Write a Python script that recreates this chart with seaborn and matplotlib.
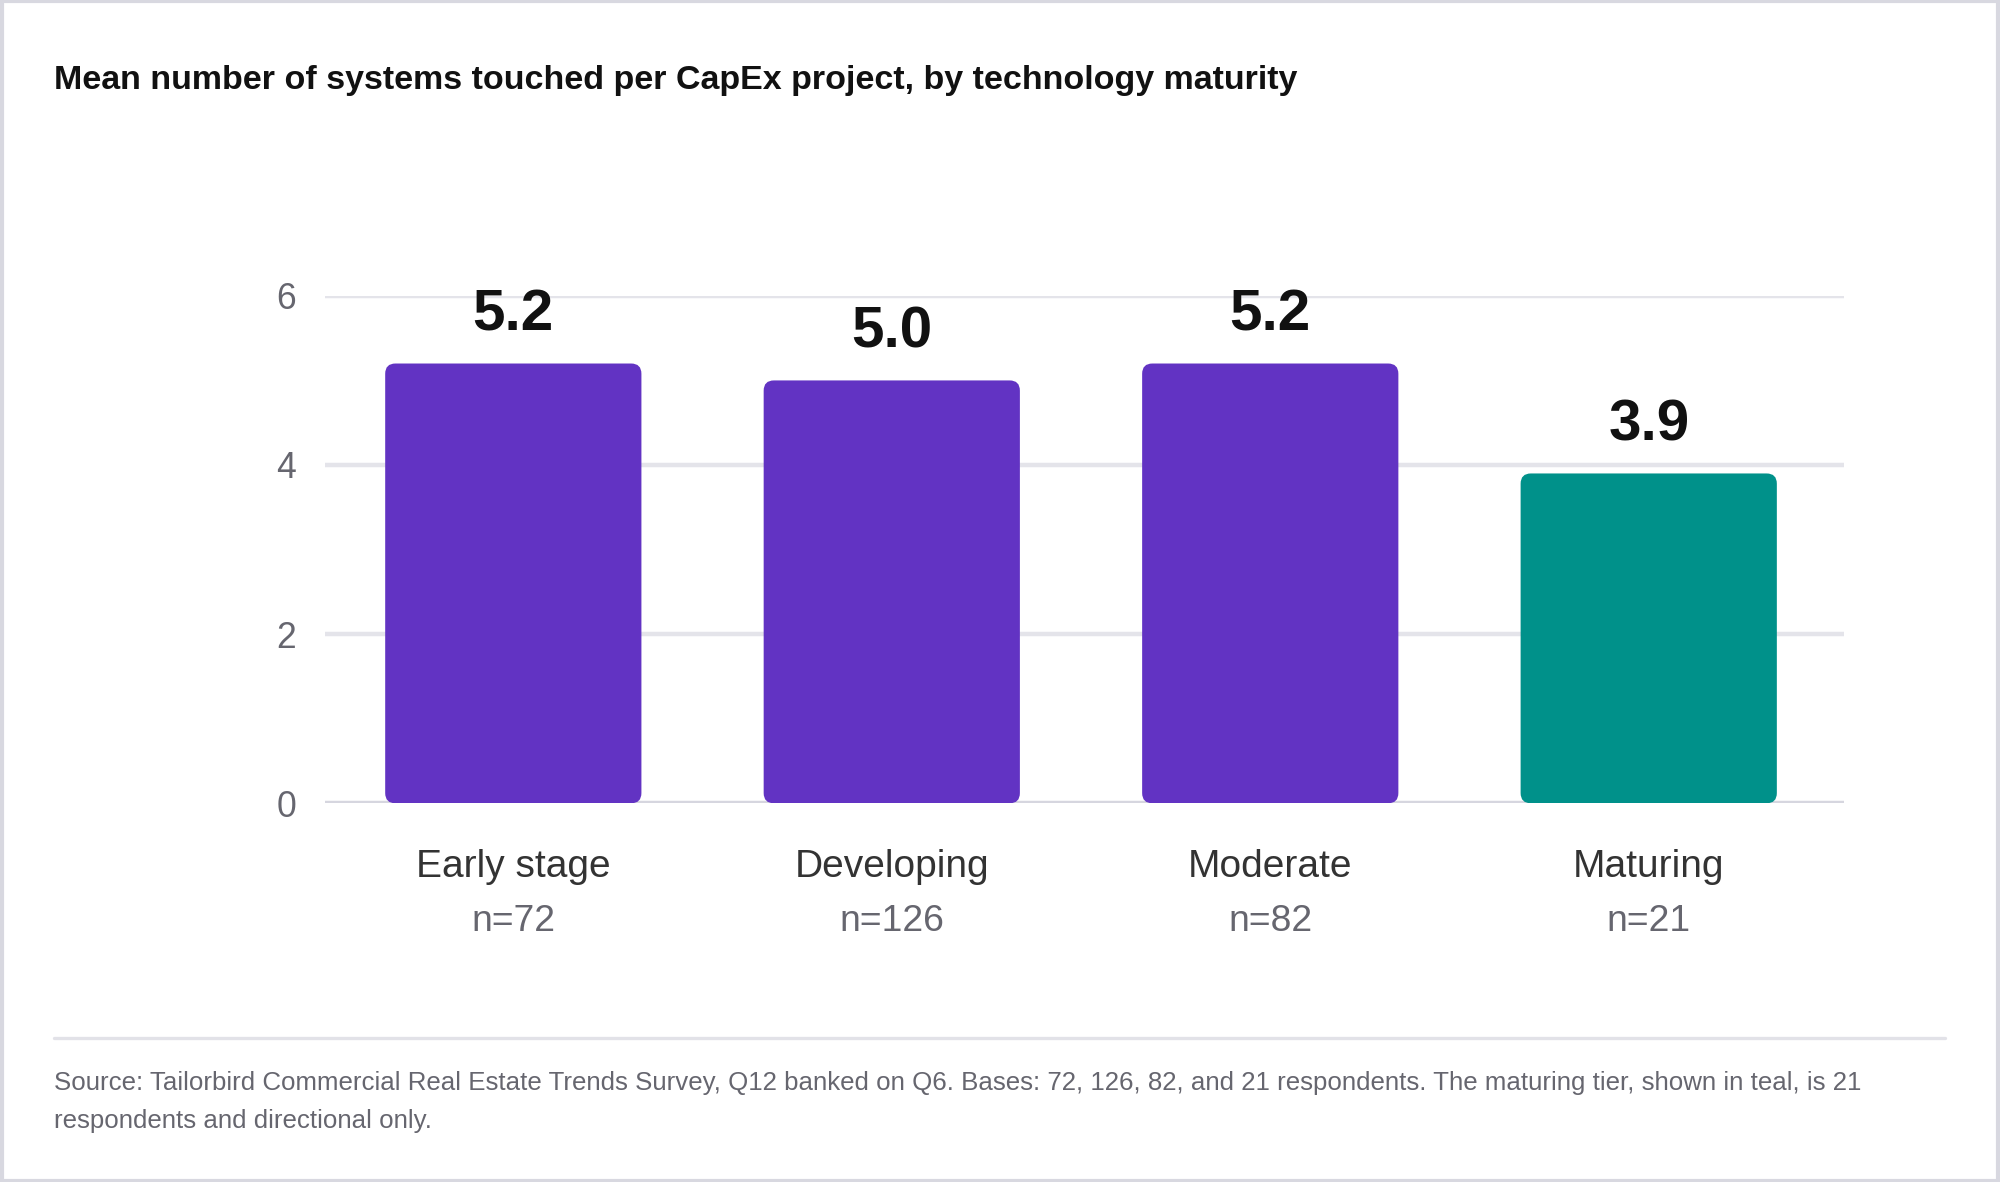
import pandas as pd
import matplotlib.pyplot as plt
import seaborn as sns
from matplotlib.patches import FancyBboxPatch, Rectangle
from matplotlib.lines import Line2D
from matplotlib.transforms import blended_transform_factory

# data
categories = ["Early stage", "Developing", "Moderate", "Maturing"]
means = [5.2, 5.0, 5.2, 3.9]
bases = [72, 126, 82, 21]
bar_colors = ["#6233C3", "#6233C3", "#6233C3", "#00918A"]
y_ticks = [0, 2, 4, 6]

title = "Mean number of systems touched per CapEx project, by technology maturity"
source_1 = ("Source: Tailorbird Commercial Real Estate Trends Survey, Q12 banked on Q6. "
            "Bases: 72, 126, 82, and 21 respondents. The maturing tier, shown in teal, is 21")
source_2 = "respondents and directional only."

df = pd.DataFrame({"tier": categories, "mean": means, "n": bases})

sns.set_theme(style="white")
plt.rcParams["font.family"] = ["Liberation Sans", "DejaVu Sans"]

fig = plt.figure(figsize=(10, 5.91), dpi=200)
ax = fig.add_axes([0.1626, 0.3204, 0.7596, 0.4293])

sns.barplot(data=df, x="tier", y="mean", hue="tier", palette=bar_colors,
            legend=False, width=0.677, ax=ax, saturation=1)

xlo, xhi = -0.497, 3.517
ax.set_xlim(xlo, xhi)
ax.set_ylim(0, 6)

# swap plain bars for rounded ones
fig.canvas.draw()
bb = ax.get_window_extent()
aspect = (6 / bb.height) / ((xhi - xlo) / bb.width)
for p in list(ax.patches):
    x0, y0, w, h = p.get_x(), p.get_y(), p.get_width(), p.get_height()
    fc = p.get_facecolor()
    p.remove()
    ax.add_patch(FancyBboxPatch((x0, y0), w, h,
                                boxstyle="round,pad=0,rounding_size=0.027",
                                mutation_aspect=aspect, facecolor=fc,
                                edgecolor="none", zorder=3))

# grid
for t in y_ticks:
    ax.axhline(t, color="#D6D6DF" if t == 0 else "#E4E4EA", lw=1.6, zorder=1)

sns.despine(ax=ax, left=True, bottom=True)
ax.set_yticks(y_ticks)
ax.set_yticklabels([str(t) for t in y_ticks], fontsize=12.8, color="#66666F")
ax.tick_params(axis="y", length=0, pad=10.5)
ax.set_xticks(range(len(categories)))
ax.set_xticklabels([])
ax.tick_params(axis="x", length=0)
ax.set_xlabel("")
ax.set_ylabel("")

# value labels
for i, v in enumerate(means):
    ax.annotate(f"{v:.1f}", (i, v), xytext=(0, 12), textcoords="offset points",
                ha="center", va="baseline", fontsize=21, fontweight="bold",
                color="#111111", zorder=4)

# category + base labels
tr = blended_transform_factory(ax.transData, fig.transFigure)
for i, (c, n) in enumerate(zip(categories, bases)):
    ax.text(i, 0.2668, c, transform=tr, ha="center", va="center",
            fontsize=14, color="#333333")
    ax.text(i, 0.2205, f"n={n}", transform=tr, ha="center", va="center",
            fontsize=13.4, color="#66666F")

fig.text(0.0268, 0.9245, title, ha="left", va="baseline", fontsize=12.25,
         fontweight="bold", color="#111111")

fig.add_artist(Line2D([0.0268, 0.9726], [0.1219, 0.1219], color="#E2E2E8", lw=1.2))
fig.text(0.0268, 0.0777, source_1, ha="left", va="baseline", fontsize=9.3, color="#66666F")
fig.text(0.0268, 0.0453, source_2, ha="left", va="baseline", fontsize=9.3, color="#66666F")

fig.add_artist(Rectangle((0.0008, 0.0012), 0.9984, 0.9976, transform=fig.transFigure,
                         fill=False, edgecolor="#D8D8E0", lw=1.5))

fig.savefig("out.png", dpi=200, facecolor="white")
